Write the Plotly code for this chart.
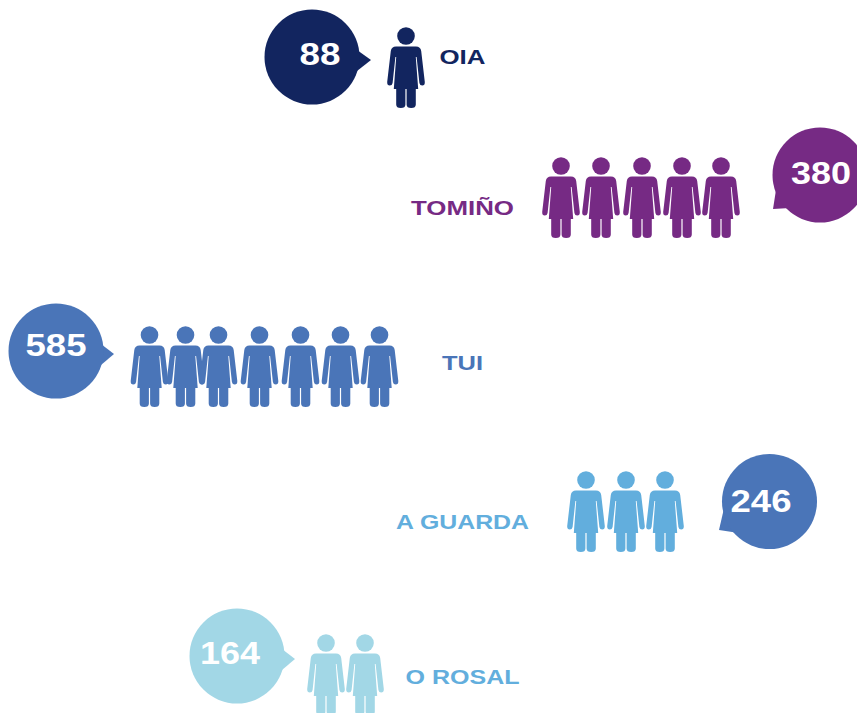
import json
import plotly.graph_objects as go

municipalities = ["OIA", "TOMIÑO", "TUI", "A GUARDA", "O ROSAL"]
values = [88, 380, 585, 246, 164]
icon_counts = [1, 5, 7, 3, 2]

# layout, in page pixels
icon_xs = [[406], [561, 601, 642, 682, 721], [149.5, 185.5, 218.5, 259.5, 300.5, 340.5, 379.5], [586, 626, 665], [326, 365]]
icon_tops = [27, 157, 326, 471, 634]
bubble_xy = [(312, 57), (820, 175), (56, 351), (769.5, 501.5), (237, 656)]
tail_offsets = [
    [(45, -7), (59, 3), (45, 14)],
    [(-44, 15), (-47, 34), (-30, 33)],
    [(45, -7), (58, 3), (45, 14)],
    [(-46, 9), (-50.5, 28.5), (-34, 31)],
    [(45, -7), (58, 3), (45, 14)],
]
number_xy = [(320, 57.5), (821, 176.5), (56, 348.5), (761, 504.5), (230, 656.5)]
label_xy = [(462.5, 59), (462.5, 210), (462.5, 365), (462.5, 524), (462.5, 679)]
label_w = [46, 103, 41, 133, 114]
number_w = [41, 60, 61, 61, 60]
bubble_colors = ["#12255f", "#762a84", "#4a75b8", "#4a75b8", "#a2d7e6"]
icon_colors = ["#12255f", "#762a84", "#4a75b8", "#62aedd", "#a2d7e6"]
label_colors = ["#12255f", "#762a84", "#4a75b8", "#62aedd", "#62aedd"]
BUBBLE_R = 47.5


def person_path(cx, top):
    def p(dx, dy):
        return f"{cx + dx:.1f},{top + dy:.1f}"
    return (
        f"M{p(-10, 19.5)} L{p(10, 19.5)} Q{p(14.5, 19.5)} {p(15.2, 24)} "
        f"L{p(18.8, 55)} Q{p(19, 58.5)} {p(16.2, 58.5)} Q{p(13.9, 58.5)} {p(13.4, 56)} "
        f"L{p(10.6, 30)} L{p(9.8, 30)} L{p(12.2, 62)} L{p(9.8, 62)} L{p(9.8, 77.5)} Q{p(9.8, 81)} {p(5.2, 81)} "
        f"Q{p(0.6, 81)} {p(0.6, 77.5)} L{p(0.6, 62)} L{p(-0.6, 62)} L{p(-0.6, 77.5)} Q{p(-0.6, 81)} {p(-5.2, 81)} "
        f"Q{p(-9.8, 81)} {p(-9.8, 77.5)} L{p(-9.8, 62)} L{p(-12.2, 62)} L{p(-9.8, 30)} L{p(-10.6, 30)} L{p(-13.4, 56)} "
        f"Q{p(-13.9, 58.5)} {p(-16.2, 58.5)} Q{p(-19, 58.5)} {p(-18.8, 55)} L{p(-15.2, 24)} Q{p(-14.5, 19.5)} {p(-10, 19.5)} Z"
    )


def tail_path(cx, cy, offs):
    pts = [f"{cx + dx},{cy + dy}" for dx, dy in offs]
    return "M" + " L".join(pts) + " Z"


fig = go.Figure()
shapes = []
for i, name in enumerate(municipalities):
    cx, cy = bubble_xy[i]
    shapes.append(dict(type="path", path=tail_path(cx, cy, tail_offsets[i]), fillcolor=bubble_colors[i], line_width=0, layer="below"))
    for x in icon_xs[i][:icon_counts[i]]:
        shapes.append(dict(type="path", path=person_path(x, icon_tops[i]), fillcolor=icon_colors[i], line_width=0, layer="below"))
    fig.add_trace(go.Scatter(x=[cx], y=[cy], mode="markers", cliponaxis=False, hoverinfo="skip",
                             marker=dict(size=2 * BUBBLE_R, color=bubble_colors[i], line_width=0)))
    fig.add_trace(go.Scatter(x=icon_xs[i], y=[icon_tops[i] + 9] * icon_counts[i], mode="markers", hoverinfo="skip",
                             marker=dict(size=17.6, color=icon_colors[i], line_width=0)))
    fig.add_trace(go.Scatter(x=[number_xy[i][0]], y=[number_xy[i][1]], mode="text", text=[str(values[i])],
                             textposition="middle center", hoverinfo="skip",
                             textfont=dict(family="Liberation Sans", size=31, color="white", weight="bold")))
    fig.add_trace(go.Scatter(x=[label_xy[i][0]], y=[label_xy[i][1]], mode="text", text=[name],
                             textposition="middle center", hoverinfo="skip",
                             textfont=dict(family="Liberation Sans", size=21, color=label_colors[i], weight="bold")))

fig.update_layout(
    width=857, height=713, margin=dict(l=0, r=0, t=0, b=0), showlegend=False,
    paper_bgcolor="white", plot_bgcolor="white", shapes=shapes,
    xaxis=dict(range=[0, 857], visible=False, fixedrange=True),
    yaxis=dict(range=[713, 0], visible=False, fixedrange=True),
)

lengths = {str(v): w for v, w in zip(values, number_w)}
lengths.update({n: w for n, w in zip(municipalities, label_w)})
post = """
document.body.style.margin = '0';
var L = %s;
document.querySelectorAll('.textpoint text').forEach(function (t) {
  var w = L[t.textContent];
  if (w) { t.setAttribute('textLength', w); t.setAttribute('lengthAdjust', 'spacingAndGlyphs'); }
});
""" % json.dumps(lengths)
fig.write_html("out.html", post_script=post, config=dict(displayModeBar=False))
